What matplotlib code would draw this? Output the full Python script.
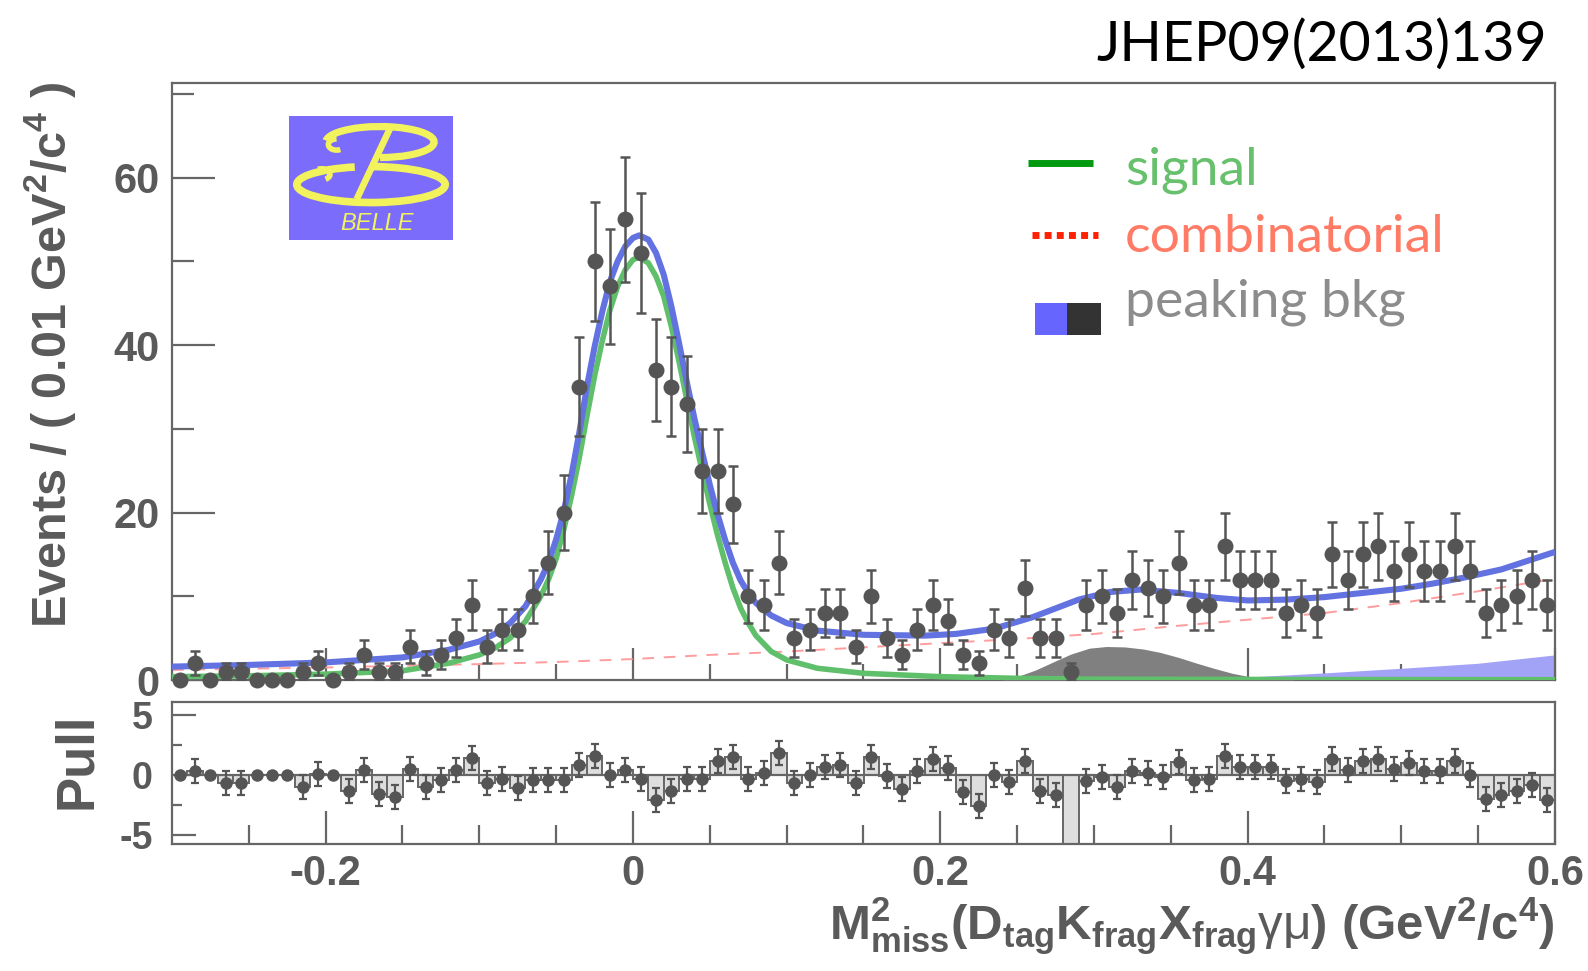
import numpy as np
import matplotlib
matplotlib.use("Agg")
import matplotlib.pyplot as plt
from matplotlib.patches import Rectangle, Arc
from matplotlib.lines import Line2D

# ---------------- data ----------------
bin_lo = -0.3
bin_width = 0.01
counts = [0, 2, 0, 1, 1, 0, 0, 0, 1, 2,
          0, 1, 3, 1, 1, 4, 2, 3, 5, 9,
          4, 6, 6, 10, 14, 20, 35, 50, 47, 55,
          51, 37, 35, 33, 25, 25, 21, 10, 9, 14,
          5, 6, 8, 8, 4, 10, 5, 3, 6, 9,
          7, 3, 2, 6, 5, 11, 5, 5, 1, 9,
          10, 8, 12, 11, 10, 14, 9, 9, 16, 12,
          12, 12, 8, 9, 8, 15, 12, 15, 16, 13,
          15, 13, 13, 16, 13, 8, 9, 10, 12, 9]
pulls = [0, 0.35, 0, -0.7, -0.7, 0, 0, 0, -1.0, 0.1,
         0, -1.3, 0.4, -1.6, -1.8, 0.5, -1.0, -0.4, 0.4, 1.4,
         -0.7, -0.3, -1.1, -0.4, -0.4, -0.4, 0.85, 1.6, 0, 0.4,
         -0.3, -2.1, -1.35, -0.3, -0.3, 1.2, 1.5, -0.3, 0.2, 1.8,
         -0.7, 0, 0.7, 0.85, -0.7, 1.5, -0.1, -1.2, 0.35, 1.3,
         0.6, -1.4, -2.6, 0, -0.6, 1.2, -1.3, -1.7, -8.0, -0.5,
         -0.2, -1.0, 0.35, 0.15, -0.15, 1.05, -0.4, -0.3, 1.55, 0.7,
         0.7, 0.7, -0.5, -0.3, -0.6, 1.3, 0.4, 1.15, 1.3, 0.5,
         1.0, 0.35, 0.35, 1.15, 0, -2.0, -1.7, -1.35, -0.8, -2.1]

signal_x = [-0.30, -0.25, -0.20, -0.15, -0.12, -0.10, -0.09, -0.08, -0.07, -0.06,
            -0.055, -0.05, -0.045, -0.04, -0.035, -0.03, -0.025, -0.02, -0.015, -0.01,
            -0.005, 0.0, 0.004, 0.01, 0.015, 0.02, 0.025, 0.03, 0.035, 0.04,
            0.045, 0.05, 0.055, 0.06, 0.065, 0.07, 0.075, 0.08, 0.09, 0.10,
            0.12, 0.15, 0.20, 0.25, 0.30, 0.45, 0.60]
signal_y = [0.4, 0.5, 0.7, 1.1, 2.0, 3.0, 3.8, 5.0, 7.0, 10.0,
            12.0, 14.5, 18.0, 22.0, 26.5, 31.5, 36.3, 40.5, 44.2, 47.0,
            49.0, 50.2, 50.5, 49.8, 48.2, 45.8, 42.2, 38.0, 33.5, 29.0,
            25.0, 21.0, 17.3, 14.0, 11.0, 8.6, 6.8, 5.3, 3.4, 2.4,
            1.4, 0.8, 0.4, 0.2, 0.1, 0.05, 0.03]

total_x = [-0.30, -0.25, -0.20, -0.15, -0.12, -0.10, -0.09, -0.08, -0.07, -0.06,
           -0.055, -0.05, -0.045, -0.04, -0.035, -0.03, -0.025, -0.02, -0.015, -0.01,
           -0.005, 0.0, 0.004, 0.01, 0.015, 0.02, 0.025, 0.03, 0.035, 0.04,
           0.045, 0.05, 0.055, 0.06, 0.065, 0.07, 0.075, 0.08, 0.09, 0.10,
           0.12, 0.15, 0.19, 0.21, 0.23, 0.24, 0.26, 0.28, 0.29, 0.31,
           0.33, 0.355, 0.38, 0.40, 0.425, 0.45, 0.47, 0.50, 0.52, 0.54,
           0.565, 0.60]
total_y = [1.6, 1.8, 2.1, 2.7, 3.6, 4.6, 5.5, 6.8, 8.8, 12.0,
           14.0, 16.8, 20.2, 24.5, 29.5, 35.0, 39.8, 44.0, 47.6, 50.0,
           51.8, 52.8, 53.1, 52.6, 51.0, 48.4, 44.6, 40.2, 35.6, 31.2,
           27.2, 23.3, 19.8, 16.7, 14.0, 11.9, 10.4, 9.2, 7.7, 6.8,
           5.9, 5.4, 5.3, 5.5, 6.0, 6.4, 7.5, 8.9, 9.6, 10.5,
           10.8, 10.4, 9.8, 9.5, 9.6, 9.9, 10.3, 10.9, 11.5, 12.2,
           13.2, 15.3]

comb_x = [-0.30, -0.20, -0.10, -0.05, 0.0, 0.05, 0.10, 0.15, 0.20, 0.25,
          0.30, 0.35, 0.40, 0.45, 0.50, 0.55, 0.60]
comb_y = [1.2, 1.5, 1.9, 2.15, 2.5, 3.0, 3.4, 3.9, 4.4, 4.9,
          5.5, 6.4, 7.2, 8.0, 9.2, 10.6, 12.1]

peak_gray_x = [0.24, 0.25, 0.262, 0.274, 0.285, 0.297, 0.308, 0.32, 0.332, 0.343,
               0.355, 0.367, 0.378, 0.39, 0.401, 0.413, 0.43]
peak_gray_y = [0.0, 0.4, 1.2, 2.2, 3.1, 3.8, 4.0, 3.95, 3.7, 3.3,
               2.7, 2.0, 1.4, 0.8, 0.4, 0.2, 0.05]

peak_blue_x = [0.30, 0.35, 0.40, 0.45, 0.50, 0.55, 0.60]
peak_blue_y = [0.0, 0.15, 0.35, 0.85, 1.4, 2.0, 3.0]

x_ticks = [-0.2, 0.0, 0.2, 0.4, 0.6]
x_ticklabels = ['-0.2', '0', '0.2', '0.4', '0.6']
y_ticks = [0, 20, 40, 60]
pull_ticks = [-5, 0, 5]
pull_ticklabels = ['-5', '0', '5']
legend_labels = ['signal', 'combinatorial', 'peaking bkg']

# ---------------- style ----------------
plt.rcParams['axes.unicode_minus'] = False
plt.rcParams['mathtext.fontset'] = 'custom'
plt.rcParams['mathtext.rm'] = 'Liberation Sans:bold'
plt.rcParams['mathtext.bf'] = 'Liberation Sans:bold'
plt.rcParams['mathtext.it'] = 'Liberation Sans'
plt.rcParams['mathtext.sf'] = 'Liberation Sans:bold'

TXT = '#5a5a5a'
FR = '#666666'
DOT = '#555555'

W, H = 1588, 971
fig = plt.figure(figsize=(W / 100, H / 100), dpi=100)

def fx(px):
    return px / W

def fy(py):
    return 1 - py / H

ax = fig.add_axes([fx(172), fy(680), fx(1555) - fx(172), fy(83) - fy(680)])
axp = fig.add_axes([fx(172), fy(844), fx(1555) - fx(172), fy(702) - fy(844)])

counts_a = np.array(counts, dtype=float)
pulls_a = np.array(pulls, dtype=float)
centers = bin_lo + bin_width * (np.arange(len(counts)) + 0.5)

# ---- main panel ----
ax.plot(comb_x, comb_y, color='#ff9c9c', lw=1.4, ls=(0, (6, 5)), zorder=2)
ax.fill_between(peak_blue_x, 0, peak_blue_y, color='#a2a2f6', lw=0, zorder=2)
ax.fill_between(peak_gray_x, 0, peak_gray_y, color='#808080', lw=0, zorder=3)
ax.plot(signal_x, signal_y, color='#5fbf6a', lw=4.0, zorder=4, solid_capstyle='butt')
ax.plot(total_x, total_y, color='#6272e0', lw=4.4, zorder=5, solid_capstyle='butt')

nz = counts_a > 0
ax.errorbar(centers[nz], counts_a[nz], yerr=np.sqrt(counts_a[nz]), fmt='none',
            ecolor=DOT, elinewidth=1.8, capsize=3.5, capthick=1.8, zorder=6)
ax.plot(centers, counts_a, 'o', color=DOT, ms=11.5, mew=0, zorder=7, clip_on=False)

ax.set_xlim(-0.3, 0.6)
ax.set_ylim(0, 71.3)
ax.set_yticks(y_ticks)
ax.set_yticks([10, 30, 50, 70], minor=True)
ax.set_xticks(x_ticks)
ax.set_xticks(np.arange(-0.25, 0.6, 0.05), minor=True)
ax.set_xticklabels([])
ax.tick_params(axis='y', which='major', direction='in', length=31, width=1.6, color=FR,
               labelsize=30, labelcolor=TXT, pad=9)
ax.tick_params(axis='y', which='minor', direction='in', length=16, width=1.6, color=FR)
ax.tick_params(axis='x', which='major', direction='in', length=23, width=1.6, color=FR)
ax.tick_params(axis='x', which='minor', direction='in', length=11.5, width=1.6, color=FR)
for lab in ax.get_yticklabels():
    lab.set_fontfamily('Liberation Sans')
    lab.set_fontweight('bold')
for s in ax.spines.values():
    s.set_color(FR)
    s.set_linewidth(1.6)

# ---- pull panel ----
axp.bar(centers, pulls_a, width=bin_width, color='#dedede', edgecolor=FR, linewidth=1.4, zorder=2)
axp.axhline(0, color=FR, lw=1.6, zorder=3)
inr = nz & (pulls_a > -5.7)
axp.errorbar(centers[inr], pulls_a[inr], yerr=np.ones(inr.sum()), fmt='none',
             ecolor=DOT, elinewidth=1.6, capsize=3, capthick=1.6, zorder=4)
axp.plot(centers[pulls_a > -5.7], pulls_a[pulls_a > -5.7], 'o', color=DOT, ms=9, mew=0, zorder=5)
axp.set_xlim(-0.3, 0.6)
axp.set_ylim(-5.74, 6.08)
axp.set_yticks(pull_ticks)
axp.set_yticklabels(pull_ticklabels)
axp.set_yticks([-2.5, 2.5], minor=True)
axp.set_xticks(x_ticks)
axp.set_xticks(np.arange(-0.25, 0.6, 0.05), minor=True)
axp.set_xticklabels(x_ticklabels)
axp.tick_params(axis='y', which='major', direction='in', length=17, width=1.6, color=FR,
                labelsize=27, labelcolor=TXT, pad=14)
axp.tick_params(axis='y', which='minor', direction='in', length=7, width=1.6, color=FR)
axp.tick_params(axis='x', which='major', direction='in', length=24, width=1.6, color=FR,
                labelsize=30, labelcolor=TXT, pad=7)
axp.tick_params(axis='x', which='minor', direction='in', length=14, width=1.6, color=FR)
for lab in axp.get_yticklabels() + axp.get_xticklabels():
    lab.set_fontfamily('Liberation Sans')
    lab.set_fontweight('bold')
for s in axp.spines.values():
    s.set_color(FR)
    s.set_linewidth(1.6)

# ---- axis titles ----
fig.text(fx(50), fy(355), r'Events / ( 0.01 GeV$^{\mathbf{2}}$/c$^{\mathbf{4}}$ )',
         rotation=90, ha='center', va='center', fontsize=35, color=TXT,
         family='Liberation Sans', weight='bold')
fig.text(fx(77), fy(761), 'Pull', rotation=90, ha='center', va='center', fontsize=38,
         color=TXT, family='Liberation Sans', weight='bold')
fig.text(fx(1555), fy(940),
         r'$\mathbf{M^{2}_{miss}(D_{tag}K_{frag}X_{frag}}\gamma\mu\mathbf{)\ (GeV^{2}/c^{4})}$',
         ha='right', va='baseline', fontsize=35.5, color=TXT)

# ---- journal reference ----
fig.text(fx(1547), fy(61), 'JHEP09(2013)139', ha='right', va='baseline',
         fontsize=40, color='black', family='Lato')

# ---- legend (drawn on overlay in pixel coords) ----
ov = fig.add_axes([0, 0, 1, 1], zorder=10)
ov.set_xlim(0, W)
ov.set_ylim(H, 0)
ov.axis('off')
ov.add_line(Line2D([1028, 1093], [163, 163], color='#009a10', lw=5, solid_capstyle='butt'))
ov.add_line(Line2D([1032, 1098], [235, 235], color='#ff2200', lw=5, ls=(0, (1, 0.75)),
                   dash_capstyle='butt'))
ov.add_patch(Rectangle((1035, 303), 32, 32, color='#6666ff', lw=0))
ov.add_patch(Rectangle((1067, 303), 34, 32, color='#333333', lw=0))
leg_colors = ['#66c06c', '#ff7b66', '#8c8c8c']
leg_base = [185, 252, 317]
for lab, c, yb in zip(legend_labels, leg_colors, leg_base):
    ov.text(1125, yb, lab, ha='left', va='baseline', fontsize=38.5, color=c, family='Lato')

# ---- Belle logo ----
lg = fig.add_axes([fx(289), fy(240), fx(453) - fx(289), fy(116) - fy(240)], zorder=11)
lg.set_xlim(0, 1)
lg.set_ylim(0, 1)
lg.set_xticks([])
lg.set_yticks([])
for s in lg.spines.values():
    s.set_visible(False)
lg.set_facecolor('#7b6cfb')
YEL = '#f2f25c'
lg.add_patch(Arc((0.555, 0.79), 0.66, 0.25, theta1=-90, theta2=178, color=YEL, lw=5.2))
lg.add_patch(Arc((0.29, 0.77), 0.1, 0.09, theta1=90, theta2=300, color=YEL, lw=4))
lg.add_patch(Arc((0.5, 0.447), 0.905, 0.29, theta1=125, theta2=85, color=YEL, lw=5.5))
lg.add_patch(Arc((0.20, 0.53), 0.1, 0.09, theta1=-60, theta2=120, color=YEL, lw=4))
lg.add_line(Line2D([0.616, 0.413], [0.90, 0.33], color=YEL, lw=4.8, solid_capstyle='butt'))
lg.text(0.535, 0.135, 'BELLE', ha='center', va='center', fontsize=17, color=YEL,
        family='Liberation Sans', style='italic')

fig.savefig('out.png', dpi=100)
